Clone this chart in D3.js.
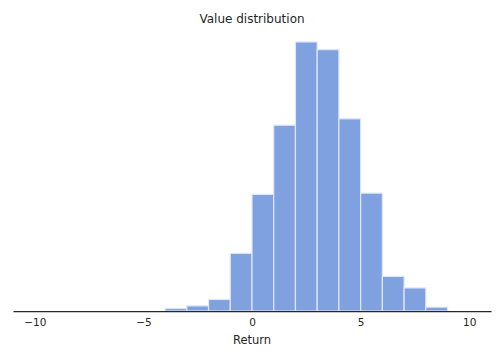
<!DOCTYPE html>
<html><head><meta charset="utf-8">
<script src="https://cdn.jsdelivr.net/npm/d3@7"></script>
<style>body{margin:0;background:#fff;} text{font-family:"DejaVu Sans",sans-serif;fill:#262626;}</style>
</head><body>
<svg id="c" width="504" height="360"></svg>
<script>
const binEdges = [-4,-3,-2,-1,0,1,2,3,4,5,6,7,8,9];
const counts = [2,4,9,45,91,145,210,204,150,92,27,18,3];
const xTicks = [-10,-5,0,5,10];
const title = "Value distribution";
const xLabel = "Return";

const svg = d3.select("#c");
const x = d3.scaleLinear().domain([-11, 11]).range([13, 491]);
const y = d3.scaleLinear().domain([0, d3.max(counts) * 1.05]).range([311, 28.5]);

const bins = counts.map((c, i) => ({x0: binEdges[i], x1: binEdges[i + 1], c}));
svg.append("g").selectAll("rect").data(bins).join("rect")
  .attr("x", d => x(d.x0))
  .attr("width", d => x(d.x1) - x(d.x0))
  .attr("y", d => y(d.c))
  .attr("height", d => y(0) - y(d.c))
  .attr("fill", "#7fa1df")
  .attr("stroke", "#dfe6f6")
  .attr("stroke-width", 1.2);

const ax = svg.append("g").attr("transform", "translate(0,311)")
  .call(d3.axisBottom(x).tickValues(xTicks).tickSize(0).tickPadding(8)
    .tickFormat(d => d < 0 ? "\u2212" + Math.abs(d) : String(d)));
ax.select(".domain").attr("stroke", "#262626").attr("stroke-width", 1.25);
ax.selectAll("text").style("font-size", "10.5px").style("font-family", "DejaVu Sans").attr("fill", "#262626");

svg.append("text").attr("x", x(0)).attr("y", 344).attr("text-anchor", "middle")
  .style("font-size", "11.5px").text(xLabel);
svg.append("text").attr("x", x(0)).attr("y", 23).attr("text-anchor", "middle")
  .style("font-size", "12px").text(title);
</script>
</body></html>
